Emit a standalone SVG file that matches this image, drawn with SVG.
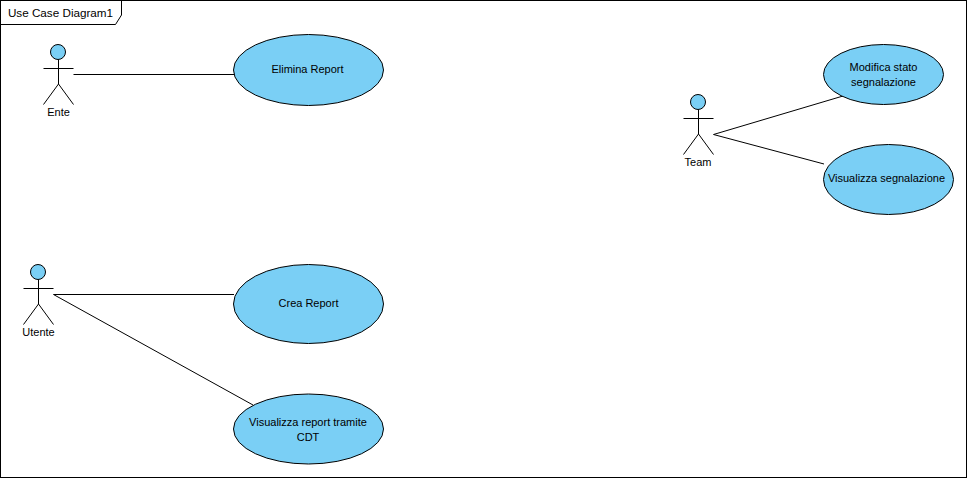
<svg xmlns="http://www.w3.org/2000/svg" width="967" height="478" viewBox="0 0 967 478">
<style>
.b{fill:none;stroke:#000;stroke-width:1}
.u{fill:#7acff5;stroke:#000;stroke-width:1}
text{font-family:"Liberation Sans",Arial,sans-serif;font-size:11px;fill:#000;text-anchor:middle}
</style>
<defs>
<g id="actor">
<circle class="u" cx="15" cy="8" r="7.500"/>
<path class="b" d="M15.500 15.500V40M0.500 24.500H30.500M15.500 40L0.500 60.500M15.500 40L30.500 60.500"/>
</g>
</defs>
<rect width="967" height="478" fill="#fff"/>
<g id="frame">
<rect class="b" x="0.500" y="0.500" width="966" height="477"/>
<path class="b" d="M0.500 24.500H115.500L121.500 15V0.500"/>
<text x="60.500" y="17" style="font-size:11.700px">Use Case Diagram1</text>
</g>
<g id="connectors">
<path class="b" d="M73.500 74.500H234"/>
<path class="b" d="M53.500 294.500H234"/>
<path class="b" d="M53.500 294.500L253 405"/>
<path class="b" d="M713.500 134.500L843 96"/>
<path class="b" d="M713.500 134.500L824 164"/>
</g>
<g id="ente"><use href="#actor" x="43" y="44"/><text x="58.500" y="116">Ente</text></g>
<g id="utente"><use href="#actor" x="23" y="264"/><text x="38.500" y="336">Utente</text></g>
<g id="team"><use href="#actor" x="683" y="94"/><text x="698" y="166">Team</text></g>
<g id="elimina"><ellipse class="u" cx="308.500" cy="70" rx="75" ry="35.500"/><text x="307.500" y="73">Elimina Report</text></g>
<g id="crea"><ellipse class="u" cx="308.500" cy="304" rx="75" ry="39.500"/><text x="308.500" y="307">Crea Report</text></g>
<g id="visualizza-report"><ellipse class="u" cx="308.500" cy="429" rx="75" ry="35"/><text x="308" y="426">Visualizza report tramite</text><text x="308" y="441">CDT</text></g>
<g id="modifica"><ellipse class="u" cx="883.500" cy="74.500" rx="60" ry="30"/><text x="883.500" y="71">Modifica stato</text><text x="883.500" y="86">segnalazione</text></g>
<g id="visualizza-segnalazione"><ellipse class="u" cx="888.500" cy="179.500" rx="65" ry="35"/><text x="886.500" y="182">Visualizza segnalazione</text></g>
</svg>
